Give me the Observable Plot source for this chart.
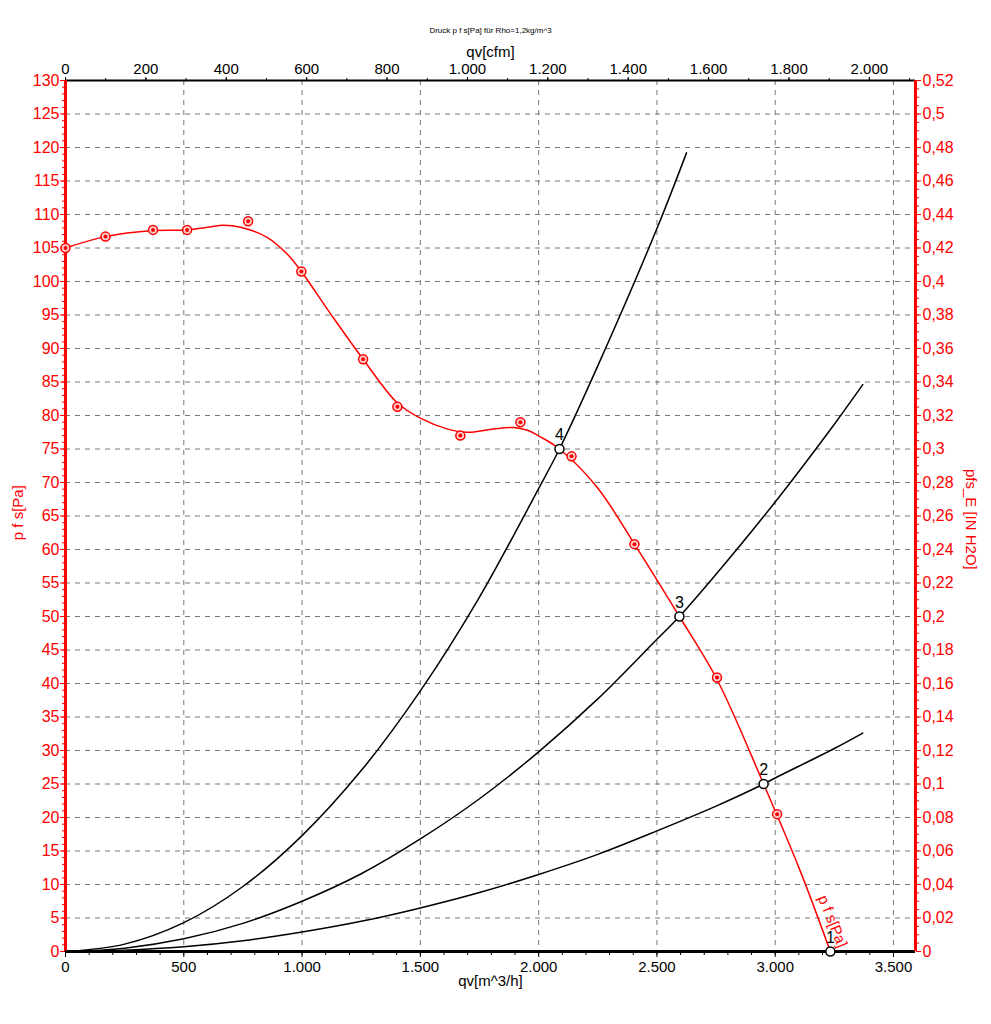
<!DOCTYPE html>
<html><head><meta charset="utf-8">
<script src="https://cdn.jsdelivr.net/npm/d3@7"></script>
<script src="https://cdn.jsdelivr.net/npm/@observablehq/plot@0.6"></script>
<style>body{margin:0;background:#fff}svg{display:block}</style>
</head><body><div id="chart"></div>
<script>
// ---- data ----
const fanQv = [0,169,370,514,600,668,740,852,937,997,1120,1258,1402,1500,1613,1698,1810,1894,1952,2008,2088,2247,2405,2595,2754,2951,3106,3233];
const fanP  = [105,106.7,107.6,107.7,108.1,108.4,108.1,106.6,104.1,101.5,95.2,88.4,81.9,79.6,78.0,77.5,78.0,78.2,77.8,76.8,75.0,69.3,60.8,50.0,40.6,25.0,12.0,0];
const measQv = [0,169,370,514,772,997,1258,1403,1669,1923,2139,2405,2754,3008];
const measP  = [105,106.7,107.7,107.7,109.0,101.5,88.4,81.3,77.0,79.0,73.9,60.8,40.9,20.5];
const sys4Qv = [0,250,500,750,1000,1250,1500,1750,2000,2088,2250,2500,2625];
const sys4P  = [0,1.1,4.3,9.7,17.3,27.0,38.9,52.9,69.1,75,87.4,107.9,119.2];
const sys3Qv = [0,250,500,750,1000,1250,1500,1750,2000,2250,2500,2595,2750,3000,3250,3370];
const sys3P  = [0,0.5,1.9,4.2,7.5,11.6,16.8,22.8,29.8,37.7,46.6,50,56.3,67.1,78.7,84.6];
const sys2Qv = [0,250,500,750,1000,1250,1500,1750,2000,2250,2500,2750,2951,3000,3250,3370];
const sys2P  = [0,0.2,0.7,1.6,2.9,4.5,6.5,8.8,11.5,14.5,18.0,21.7,25,25.9,30.3,32.6];
const opQv = [3233,2951,2595,2088];
const opP  = [0,25,50,75];
const opLabels = ["1","2","3","4"];
const xTicks = [0,500,1000,1500,2000,2500,3000,3500];
const cfmTicks = [0,200,400,600,800,1000,1200,1400,1600,1800,2000];
const pTicks = [0,5,10,15,20,25,30,35,40,45,50,55,60,65,70,75,80,85,90,95,100,105,110,115,120,125,130];
const inTicks = [0,0.02,0.04,0.06,0.08,0.1,0.12,0.14,0.16,0.18,0.2,0.22,0.24,0.26,0.28,0.3,0.32,0.34,0.36,0.38,0.4,0.42,0.44,0.46,0.48,0.5,0.52];
const titleText = "Druck p f s[Pa] für Rho=1,2kg/m^3";

// ---- unit conversions ----
const CFM = 1.699;     // m^3/h per cfm
const PA_IN = 250;     // Pa per inch H2O (as drawn)
const XMAX = 3593, YMAX = 130;

const de = d3.formatLocale({decimal:",", thousands:".", grouping:[3], currency:["","€"]});
const fmtInt = de.format(",.0f");
const fmtIn = de.format("~g");

const zip = (a,b) => a.map((v,i)=>({q:v,p:b[i]}));
const fan = zip(fanQv, fanP), meas = zip(measQv, measP);
const s2 = zip(sys2Qv, sys2P), s3 = zip(sys3Qv, sys3P), s4 = zip(sys4Qv, sys4P);
const ops = opQv.map((q,i)=>({q, p:opP[i], t:opLabels[i]}));
const range = (a,b,s) => d3.range(a, b + s/2, s);

const font = "Liberation Sans, Arial, Helvetica, sans-serif";
const grid = {stroke:"#777", strokeOpacity:1, strokeDasharray:"5,5"};
const chart = Plot.plot({
  width: 991, height: 1024,
  marginLeft: 65, marginRight: 76, marginTop: 80, marginBottom: 73,
  style: {fontFamily: font, background: "#fff"},
  x: {domain: [0, XMAX], label: null},
  y: {domain: [0, YMAX], label: null},
  marks: [
    Plot.gridX(xTicks.filter(d=>d>0), grid),
    Plot.gridY(pTicks.filter(d=>d>0 && d<130), grid),
    // bottom axis
    Plot.axisX({anchor:"bottom", ticks: range(0,3500,100), tickSize:4, tickFormat:()=>"", color:"black", label:null}),
    Plot.axisX({anchor:"bottom", ticks: xTicks, tickSize:6, tickPadding:4, tickFormat: fmtInt, fontSize:15, color:"black", label:null}),
    // top axis (cfm)
    Plot.axisX({anchor:"top", ticks: range(0,2100,100).map(c=>c*CFM), tickSize:3, tickFormat:()=>"", color:"black", label:null}),
    Plot.axisX({anchor:"top", ticks: cfmTicks.map(c=>c*CFM), tickSize:4, tickPadding:3, tickFormat: d=>fmtInt(Math.round(d/CFM)), fontSize:15, color:"black", label:null}),
    // left axis
    Plot.axisY({anchor:"left", ticks: range(0,130,1), tickSize:3, tickFormat:()=>"", color:"red", label:null}),
    Plot.axisY({anchor:"left", ticks: pTicks, tickSize:5, tickPadding:1, tickFormat: fmtInt, fontSize:16, color:"red", label:null}),
    // right axis (in H2O)
    Plot.axisY({anchor:"right", ticks: range(0,0.52,0.005).map(v=>v*PA_IN), tickSize:3, tickFormat:()=>"", color:"red", label:null}),
    Plot.axisY({anchor:"right", ticks: inTicks.map(v=>v*PA_IN), tickSize:5, tickPadding:2, tickFormat: d=>fmtIn(+(d/PA_IN).toFixed(3)), fontSize:16, color:"red", label:null}),
    // frame lines
    Plot.ruleY([0], {stroke:"black", strokeWidth:3}),
    Plot.ruleY([YMAX], {stroke:"black", strokeWidth:2}),
    Plot.ruleX([0], {stroke:"red", strokeWidth:3}),
    Plot.ruleX([XMAX], {stroke:"red", strokeWidth:3}),
    // system curves
    Plot.line(s2, {x:"q", y:"p", stroke:"black", strokeWidth:1.5, curve:"catmull-rom"}),
    Plot.line(s3, {x:"q", y:"p", stroke:"black", strokeWidth:1.5, curve:"catmull-rom"}),
    Plot.line(s4, {x:"q", y:"p", stroke:"black", strokeWidth:1.5, curve:"catmull-rom"}),
    // fan curve
    Plot.line(fan, {x:"q", y:"p", stroke:"red", strokeWidth:1.5, curve:"catmull-rom"}),
    Plot.dot(meas, {x:"q", y:"p", r:4.5, stroke:"red", strokeWidth:1.5, fill:"#ffd0d0"}),
    Plot.dot(meas, {x:"q", y:"p", r:2, fill:"red"}),
    // operating points
    Plot.dot(ops, {x:"q", y:"p", r:4.5, stroke:"black", strokeWidth:1.5, fill:"white"}),
    Plot.text(ops, {x:"q", y:"p", text:"t", dy:-14, fontSize:16, fill:"black"}),
    // curve label
    Plot.text(["p f s[Pa]"], {x:3242, y:4.5, rotate:68, fontSize:15, fill:"red"}),
    // titles and axis labels
    Plot.text([titleText], {frameAnchor:"top", dy:-53, fontSize:8, fill:"black"}),
    Plot.text(["qv[cfm]"], {frameAnchor:"top", dy:-34, fontSize:15, fill:"black"}),
    Plot.text(["qv[m^3/h]"], {frameAnchor:"bottom", dy:34, fontSize:15, fill:"black"}),
    Plot.text(["p f s[Pa]"], {x:0, y:65.5, dx:-47, rotate:-90, fontSize:15, fill:"red"}),
    Plot.text(["pfs_E [IN H2O]"], {x:XMAX, y:64.5, dx:55, rotate:90, fontSize:15, fill:"red"})
  ]
});
document.getElementById("chart").append(chart);
</script>
</body></html>
